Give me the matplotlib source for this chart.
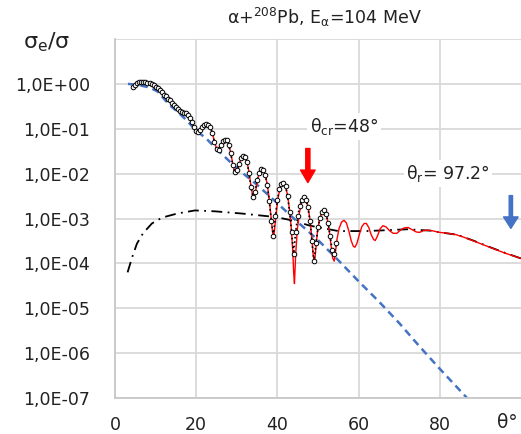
import numpy as np
import matplotlib
matplotlib.use("Agg")
import matplotlib.pyplot as plt

# measured points (open circles), theta in degrees, log10(sigma_e/sigma)
exp_theta = [4.5, 5.0, 5.5, 6.0, 6.5, 7.0, 7.5, 8.0, 8.5, 9.0, 9.5, 10.0, 10.5, 11.0, 11.5,
             12.0, 12.5, 13.0, 13.5, 14.0, 14.5, 15.0, 15.5, 16.0, 16.5, 17.0, 17.5, 18.0,
             18.5, 19.0, 19.5, 20.0, 20.5, 21.0, 21.5, 22.0, 22.5, 23.0, 23.5, 24.0, 24.5,
             25.0, 25.5, 26.0, 26.5, 27.0, 27.5, 28.0, 28.5, 29.0, 29.5, 30.0, 30.5, 31.0,
             31.5, 32.0, 32.5, 33.0, 33.5, 34.0, 34.5, 35.0, 35.5, 36.0, 36.5, 37.0, 37.5,
             38.0, 38.5, 39.0, 39.5, 40.0, 40.5, 41.0, 41.5, 42.0, 42.5, 43.0, 43.5, 44.0,
             44.5, 45.0, 45.5, 46.0, 46.5, 47.0, 47.5, 48.0, 48.5, 49.0, 49.5, 50.0, 50.5,
             51.0, 51.5, 52.0, 52.5, 53.0, 53.5, 54.0, 54.5]
exp_log = [-0.08, -0.02, 0.02, 0.04, 0.05, 0.04, 0.05, 0.03, 0.02, 0.0, -0.03, -0.07, -0.10,
           -0.14, -0.19, -0.24, -0.28, -0.33, -0.37, -0.42, -0.47, -0.52, -0.57, -0.61, -0.63,
           -0.64, -0.66, -0.70, -0.76, -0.85, -0.97, -1.06, -1.08, -1.02, -0.95, -0.92, -0.90,
           -0.91, -0.97, -1.10, -1.30, -1.46, -1.47, -1.36, -1.28, -1.24, -1.26, -1.36, -1.55,
           -1.80, -1.97, -1.93, -1.78, -1.66, -1.60, -1.62, -1.74, -1.98, -2.30, -2.52, -2.40,
           -2.15, -1.98, -1.90, -1.91, -2.02, -2.25, -2.60, -3.05, -3.38, -2.95, -2.58, -2.35,
           -2.24, -2.21, -2.28, -2.50, -2.85, -3.30, -3.78, -3.30, -2.95, -2.72, -2.58, -2.53,
           -2.58, -2.75, -3.05, -3.50, -3.95, -3.55, -3.20, -2.98, -2.86, -2.82, -2.90, -3.10,
           -3.40, -3.70, -3.78, -3.55]

# full calculation (red)
fit_theta = [4.5, 5, 5.5, 6, 6.5, 7, 7.5, 8, 8.5, 9, 9.5, 10, 11, 12, 13, 14, 15, 16, 16.5, 17,
             17.5, 18, 18.5, 19, 19.5, 20, 20.5, 21, 21.5, 22, 22.5, 23, 23.5, 24, 24.5, 25,
             25.3, 25.7, 26, 26.5, 27, 27.5, 28, 28.5, 29, 29.5, 29.8, 30.2, 30.6, 31, 31.5,
             32, 32.5, 33, 33.5, 34, 34.3, 34.6, 35, 35.5, 36, 36.5, 37, 37.5, 38, 38.5, 38.8,
             39.1, 39.4, 39.8, 40.2, 40.6, 41, 41.5, 42, 42.5, 43, 43.4, 43.8, 44.0, 44.2, 44.5,
             44.9, 45.4, 46, 46.5, 47, 47.5, 48, 48.4, 48.8, 49.1, 49.4, 49.8, 50.3, 50.8, 51.3,
             51.8, 52.3, 52.8, 53.2, 53.6, 54, 54.3, 54.7, 55.2, 55.8, 56.4, 57, 57.6, 58.2,
             58.7, 59.1, 59.6, 60.2, 60.8, 61.4, 61.9, 62.5, 63.1, 63.7, 64.1, 64.6, 65.3, 66,
             66.8, 67.6, 68.5, 69.4, 70.3, 71.2, 72.2, 73.2, 74.2, 75, 76, 77, 78, 80, 82, 84,
             86, 88, 90, 92, 94, 96, 98, 100]
fit_log = [-0.06, -0.02, 0.01, 0.03, 0.04, 0.04, 0.04, 0.03, 0.01, -0.01, -0.04, -0.07, -0.15,
           -0.24, -0.33, -0.42, -0.52, -0.60, -0.63, -0.64, -0.66, -0.71, -0.77, -0.86, -0.97,
           -1.05, -1.07, -1.02, -0.96, -0.92, -0.90, -0.91, -0.97, -1.10, -1.29, -1.44, -1.48,
           -1.44, -1.37, -1.29, -1.25, -1.26, -1.35, -1.53, -1.78, -1.97, -2.00, -1.92, -1.79,
           -1.68, -1.61, -1.62, -1.73, -1.96, -2.28, -2.54, -2.55, -2.42, -2.18, -1.99, -1.91,
           -1.91, -2.02, -2.24, -2.58, -3.02, -3.30, -3.42, -3.15, -2.80, -2.52, -2.35, -2.25,
           -2.21, -2.27, -2.48, -2.82, -3.20, -3.75, -4.20, -4.45, -3.80, -3.25, -2.88, -2.63,
           -2.54, -2.56, -2.72, -3.00, -3.35, -3.80, -4.00, -3.75, -3.35, -3.05, -2.90, -2.82,
           -2.85, -3.02, -3.30, -3.60, -3.88, -3.95, -3.75, -3.45, -3.22, -3.08, -3.04, -3.10,
           -3.28, -3.50, -3.62, -3.64, -3.55, -3.35, -3.18, -3.11, -3.11, -3.20, -3.36, -3.47,
           -3.49, -3.40, -3.23, -3.16, -3.19, -3.27, -3.33, -3.33, -3.26, -3.21, -3.20, -3.25,
           -3.30, -3.31, -3.27, -3.26, -3.27, -3.31, -3.33, -3.36, -3.42, -3.49, -3.56, -3.63,
           -3.70, -3.77, -3.83, -3.89]

# farside-like component (black dash-dot)
far_theta = [3.1, 4.2, 5.4, 6.9, 9.1, 11.6, 15.3, 19.7, 24.6, 31.3, 39.8, 44, 48, 51, 55, 62,
             72, 77.6, 80, 84.2, 88.2, 92.4, 96.5, 100]
far_log = [-4.2, -3.87, -3.56, -3.33, -3.11, -2.98, -2.89, -2.82, -2.84, -2.89, -2.97, -3.05,
           -3.16, -3.21, -3.28, -3.28, -3.24, -3.27, -3.31, -3.36, -3.49, -3.64, -3.78, -3.89]

# nearside-like component (blue dashed)
near_theta = [3.2, 6, 8.5, 10.5, 13.3, 15.5, 17.5, 20, 22.5, 25, 30, 35, 40, 45, 50, 55, 60,
              65, 70, 75, 80, 86.7, 88]
near_log = [0.0, -0.03, -0.08, -0.17, -0.46, -0.63, -0.80, -1.04, -1.22, -1.45, -1.88, -2.25,
            -2.66, -3.08, -3.48, -3.93, -4.4, -4.85, -5.33, -5.85, -6.35, -7.0, -7.15]

yticks = [1e-7, 1e-6, 1e-5, 1e-4, 1e-3, 1e-2, 1e-1, 1e0, 1e1]
ytick_labels = ["1,0E-07", "1,0E-06", "1,0E-05", "1,0E-04", "1,0E-03", "1,0E-02",
                "1,0E-01", "1,0E+00", ""]
xticks = [0, 20, 40, 60, 80]

theta_cr = 47.5
theta_r = 97.5

fig = plt.figure(figsize=(5.21, 4.34), dpi=100)
ax = fig.add_axes([115 / 521, 1 - 398 / 434, (521 - 115) / 521, (398 - 39) / 434])

ax.plot(near_theta, 10 ** np.array(near_log), color="#4472C4", ls=(0, (3, 2)), lw=1.8, zorder=2)
ax.plot(far_theta, 10 ** np.array(far_log), color="black", ls=(0, (6, 3, 1, 3)), lw=1.3, zorder=3)
ax.plot(fit_theta, 10 ** np.array(fit_log), color="red", lw=1.0, zorder=4)
ax.plot(exp_theta, 10 ** np.array(exp_log), color="black", ls=":", lw=1.2,
        marker="o", ms=3.3, mfc="white", mec="black", mew=0.7, zorder=5)

ax.set_yscale("log")
ax.set_xlim(0, 100)
ax.set_ylim(1e-7, 1e1)
ax.set_yticks(yticks)
ax.set_yticklabels(ytick_labels)
ax.yaxis.set_minor_locator(matplotlib.ticker.NullLocator())
ax.set_xticks(xticks)
ax.tick_params(axis="both", length=0, labelsize=12.5, colors="#222222")
ax.tick_params(axis="y", pad=18)
ax.tick_params(axis="x", pad=13)
ax.grid(True, color="#d9d9d9", lw=1.3)
ax.set_axisbelow(True)
for s in ["top", "right"]:
    ax.spines[s].set_visible(False)
for s in ["left", "bottom"]:
    ax.spines[s].set_color("#c8c8c8")
    ax.spines[s].set_linewidth(1.3)

fig.text(324 / 521, 1 - 17 / 434, r"α+$^{\mathrm{208}}$Pb, E$_{\mathrm{α}}$=104 MeV",
         ha="center", va="center", fontsize=12.5, color="#222222")
fig.text(47 / 521, 1 - 42 / 434, r"σ$_{\mathrm{e}}$/σ", ha="center", va="center",
         fontsize=16, color="#222222")
fig.text(507 / 521, 1 - 423 / 434, "θ°", ha="center", va="center", fontsize=13.5, color="#222222")

ax.text(56.5, 10 ** -0.95, r"θ$_{\mathrm{cr}}$=48°", ha="center", va="center", fontsize=12.5,
        color="#222222", bbox=dict(fc="white", ec="none", pad=2), zorder=6)
ax.text(82, 10 ** -2.0, r"θ$_{\mathrm{r}}$= 97.2°", ha="center", va="center", fontsize=12.5,
        color="#222222", bbox=dict(fc="white", ec="none", pad=2), zorder=6)

ax.annotate("", xy=(theta_cr, 10 ** -2.2), xytext=(theta_cr, 10 ** -1.44),
            arrowprops=dict(arrowstyle="simple,head_length=0.6,head_width=0.7,tail_width=0.2",
                            color="red", mutation_scale=15, shrinkA=0, shrinkB=0), zorder=7)
ax.annotate("", xy=(theta_r, 10 ** -3.22), xytext=(theta_r, 10 ** -2.49),
            arrowprops=dict(arrowstyle="simple,head_length=0.55,head_width=0.7,tail_width=0.16",
                            color="#4472C4", mutation_scale=15, shrinkA=0, shrinkB=0), zorder=7)

fig.savefig("out.png", dpi=100)
